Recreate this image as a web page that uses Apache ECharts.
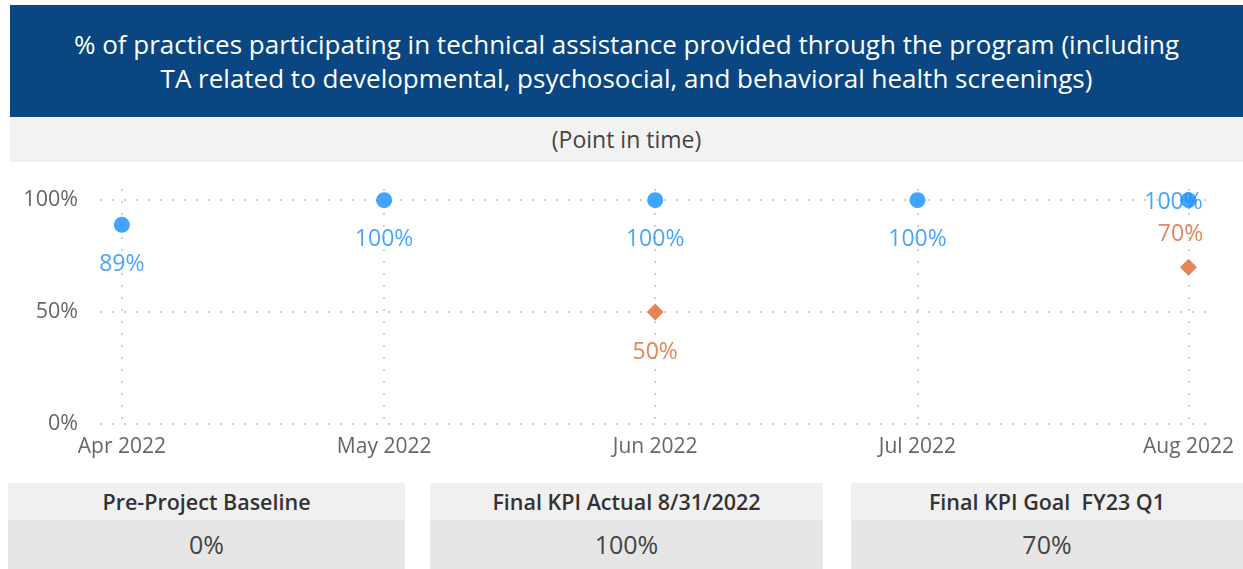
<!DOCTYPE html>
<html>
<head>
<meta charset="utf-8">
<script src="https://cdn.jsdelivr.net/npm/echarts@6/dist/echarts.min.js"></script>
<style>
  body { margin: 0; background: #fff; font-family: 'Segoe UI', 'Open Sans', sans-serif; }
  #page { position: relative; width: 1243px; height: 569px; overflow: hidden; }
  #title-band { position: absolute; left: 10px; right: 0; top: 5px; height: 112px; background: #0A4782;
    color: #fff; font-size: 26px; line-height: 34px; text-align: center; display: flex; align-items: center; justify-content: center; }
  #sub-band { position: absolute; left: 10px; right: 0; top: 117px; height: 45px; background: #F2F2F2;
    color: #444; font-size: 23px; line-height: 45px; text-align: center; }
  #chart { position: absolute; left: 0; top: 162px; width: 1243px; height: 308px; }
  .card { position: absolute; top: 483px; height: 86px; }
  .card-head { height: 37px; line-height: 37px; background: #F0F0F0; color: #333; font-weight: 600; font-size: 21.5px; text-align: center; }
  .card-val { height: 49px; line-height: 49px; background: #E6E6E6; color: #444; font-size: 25px; text-align: center; }
</style>
</head>
<body>
<div id="page">
  <div id="title-band"><div>% of practices participating in technical assistance provided through the program (including<br>TA related to developmental, psychosocial, and behavioral health screenings)</div></div>
  <div id="sub-band">(Point in time)</div>
  <div id="chart"></div>
  <div id="cards"></div>
</div>
<script>
var months = ['2022-04-01', '2022-05-01', '2022-06-01', '2022-07-01', '2022-08-01'];
var month_labels = ['Apr 2022', 'May 2022', 'Jun 2022', 'Jul 2022', 'Aug 2022'];
var actual_values = [89, 100, 100, 100, 100];
var goal_months = ['2022-06-01', '2022-08-01'];
var goal_values = [50, 70];
var y_ticks = [0, 50, 100];

var card_titles = ['Pre-Project Baseline', 'Final KPI Actual 8/31/2022', 'Final KPI Goal  FY23 Q1'];
var card_values = [0, 100, 70];

var DAY = 24 * 3600 * 1000;
function toTime(s){
    var p = s.split('-');
    return Date.UTC(+p[0], +p[1] - 1, +p[2]);
}

// cards under the chart
var card_pos = [[8, 397], [430, 393], [851, 392]];
card_titles.forEach(function(value, index){
    var card = document.createElement('div');
    card.className = 'card';
    card.style.left = card_pos[index][0] + 'px';
    card.style.width = card_pos[index][1] + 'px';
    card.innerHTML = '<div class="card-head">' + value.replace(/  /g, '&nbsp; ') + '</div>' +
        '<div class="card-val">' + card_values[index] + '%</div>';
    document.getElementById('cards').appendChild(card);
});

var tick_times = months.map(toTime);

var actual_data = [];
actual_values.forEach(function(value, index){
    var item = { value: [tick_times[index], value] };
    if(index == actual_values.length - 1){
        // last label squeezed to the left of the dot like in the report
        item.label = { position: 'inside', offset: [-15, 2] };
    }
    actual_data.push(item);
});

var goal_data = [];
goal_values.forEach(function(value, index){
    var item = { value: [toTime(goal_months[index]), value] };
    if(index == goal_values.length - 1){
        item.label = { position: 'top', distance: 13, offset: [-8, 0] };
    }
    goal_data.push(item);
});

var dotted = { color: '#cfcfcf', width: 2, type: [2, 10] };
var font = "'Segoe UI', 'Open Sans', sans-serif";

var option = {
    animation: false,
    grid: { left: 100, right: 37, top: 27, bottom: 41.5 },
    xAxis: {
        type: 'value',
        min: tick_times[0] - 2.5 * DAY,
        max: tick_times[tick_times.length - 1] + 2 * DAY,
        axisLine: { show: false },
        axisTick: { show: false, customValues: tick_times },
        splitLine: { show: true, lineStyle: dotted },
        axisLabel: {
            customValues: tick_times,
            margin: 8,
            fontSize: 21,
            color: '#666',
            fontFamily: font,
            formatter: function(val){
                var i = tick_times.indexOf(val);
                return i >= 0 ? month_labels[i] : '';
            }
        }
    },
    yAxis: {
        type: 'value',
        min: -2,
        max: 105,
        axisLine: { show: false },
        axisTick: { show: false, customValues: y_ticks },
        splitLine: { show: true, lineStyle: dotted },
        axisLabel: {
            customValues: y_ticks,
            margin: 22,
            fontSize: 21.5,
            color: '#666',
            fontFamily: font,
            formatter: '{value}%'
        }
    },
    series: [{
        name: 'Actual',
        type: 'scatter',
        symbol: 'circle',
        symbolSize: 16,
        itemStyle: { color: '#118DFF' },
        label: {
            show: true,
            position: 'bottom',
            distance: 20,
            fontSize: 23,
            color: '#1A8FFF',
            fontFamily: font,
            formatter: function(p){ return p.value[1] + '%'; }
        },
        data: actual_data
    }, {
        name: 'Goal',
        type: 'scatter',
        symbol: 'diamond',
        symbolSize: 17,
        itemStyle: { color: '#E0662F' },
        label: {
            show: true,
            position: 'bottom',
            distance: 20,
            fontSize: 23,
            color: '#E0662F',
            fontFamily: font,
            formatter: function(p){ return p.value[1] + '%'; }
        },
        data: goal_data
    }]
};

var chart = echarts.init(document.getElementById('chart'));
chart.setOption(option);
</script>
</body>
</html>
